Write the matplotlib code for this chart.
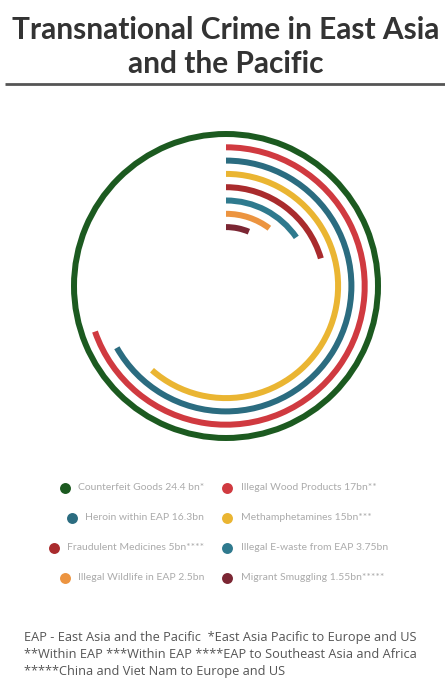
import matplotlib
matplotlib.use('Agg')
import matplotlib.pyplot as plt
import numpy as np

# values in billions USD, outermost ring first
categories = ['Counterfeit Goods', 'Illegal Wood Products', 'Heroin within EAP',
              'Methamphetamines', 'Fraudulent Medicines', 'Illegal E-waste from EAP',
              'Illegal Wildlife in EAP', 'Migrant Smuggling']
values = [24.4, 17, 16.3, 15, 5, 3.75, 2.5, 1.55]
legend_labels = ['Counterfeit Goods 24.4 bn*', 'Illegal Wood Products 17bn**',
                 'Heroin within EAP 16.3bn', 'Methamphetamines 15bn***',
                 'Fraudulent Medicines 5bn****', 'Illegal E-waste from EAP 3.75bn',
                 'Illegal Wildlife in EAP 2.5bn', 'Migrant Smuggling 1.55bn*****']
colors = ['#1c5a20', '#d03a40', '#2b6c80', '#eab532',
          '#a92b2d', '#2f7a8e', '#ec9440', '#7b2633']

title_lines = ['Transnational Crime in East Asia', 'and the Pacific']
notes = ['EAP - East Asia and the Pacific  *East Asia Pacific to Europe and US',
         '**Within EAP ***Within EAP ****EAP to Southeast Asia and Africa',
         '*****China and Viet Nam to Europe and US']

W, H = 445, 688
fig = plt.figure(figsize=(W / 100, H / 100), dpi=100)
fig.patch.set_facecolor('white')

# radial bars
cx, cy, R = 226, 286, 160
ax = fig.add_axes([(cx - R) / W, (H - cy - R) / H, 2 * R / W, 2 * R / H], projection='polar')
ax.set_theta_zero_location('N')
ax.set_theta_direction(-1)
ax.set_rlim(0, R)
ax.axis('off')

lw = 6
for i, (v, c) in enumerate(zip(values, colors)):
    r = 152 - 13.3 * i
    theta = v / max(values) * 2 * np.pi
    ax.bar(0, lw, width=theta, bottom=r - lw / 2, align='edge', color=c, linewidth=0)

# overlay in pixel coordinates for text and legend
ov = fig.add_axes([0, 0, 1, 1], facecolor='none')
ov.set_xlim(0, W)
ov.set_ylim(H, 0)
ov.axis('off')

title_font = ['Lato', 'DejaVu Sans']
ov.text(226, 39, title_lines[0], ha='center', va='baseline', fontsize=21.5,
        fontweight='bold', color='#333333', family=title_font)
ov.text(226, 73, title_lines[1], ha='center', va='baseline', fontsize=21.5,
        fontweight='bold', color='#333333', family=title_font)
ov.plot([5, 445], [84, 84], color='#555555', lw=2, solid_capstyle='butt')

# legend, two columns
fig.canvas.draw()
renderer = fig.canvas.get_renderer()
row_y = [488, 518, 548, 578]
leg_font = ['Lato', 'DejaVu Sans']
for i, (lab, c) in enumerate(zip(legend_labels, colors)):
    row = i // 2
    y = row_y[row]
    if i % 2 == 0:
        t = ov.text(204, y, lab, ha='right', va='center', fontsize=7.5,
                    color='#ababab', family=leg_font)
        bb = t.get_window_extent(renderer)
        mx = bb.x0 - 13
    else:
        ov.text(241, y, lab, ha='left', va='center', fontsize=7.5,
                color='#ababab', family=leg_font)
        mx = 227
    ov.scatter([mx], [y], s=62, color=c, linewidths=0)

for j, line in enumerate(notes):
    ov.text(24, 637 + 17.5 * j, line, ha='left', va='center', fontsize=9.2,
            color='#555555', family=['Open Sans', 'DejaVu Sans'])

fig.savefig('out.png', dpi=100)
